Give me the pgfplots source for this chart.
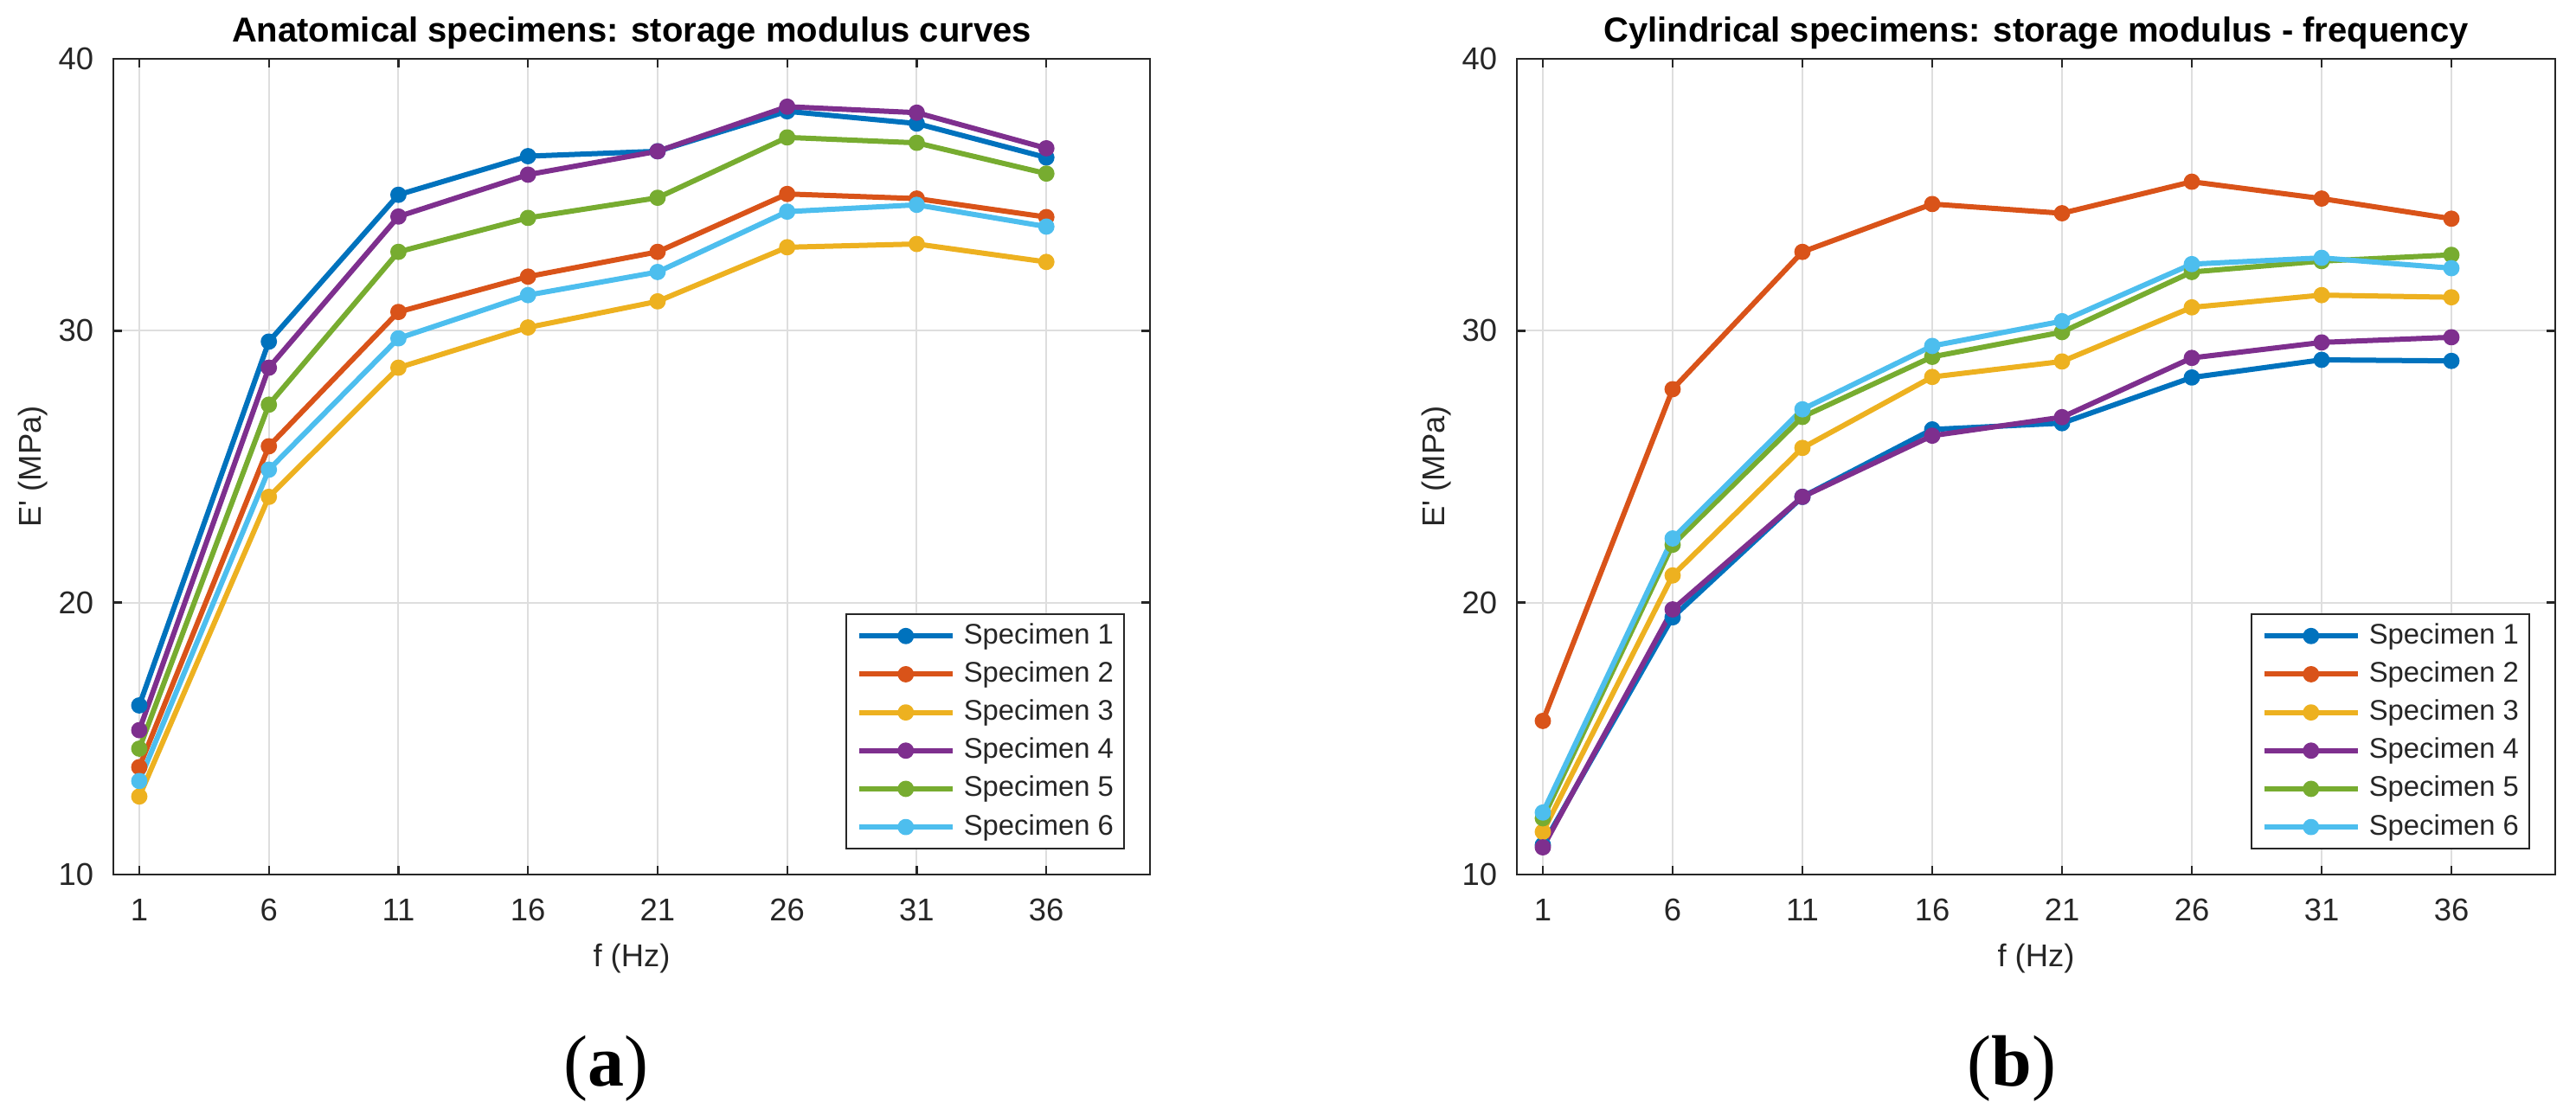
\documentclass[border=0pt]{standalone}
\usepackage{fontspec}
\setmainfont{Liberation Sans}
\newfontfamily\seriffont{Liberation Serif}
\usepackage{pgfplots}
\pgfplotsset{compat=1.18}
\usepackage{pgfplotstable}

\definecolor{c1}{rgb}{0,0.447,0.741}
\definecolor{c2}{rgb}{0.850,0.325,0.098}
\definecolor{c3}{rgb}{0.929,0.694,0.125}
\definecolor{c4}{rgb}{0.494,0.184,0.556}
\definecolor{c5}{rgb}{0.466,0.674,0.188}
\definecolor{c6}{rgb}{0.301,0.745,0.933}
\definecolor{axgray}{rgb}{0.15,0.15,0.15}
\definecolor{gridgray}{rgb}{0.87,0.87,0.87}

\pgfplotstableread{
x   s1     s2     s3     s4     s5     s6
1   16.22  13.95  12.87  15.31  14.63  13.44
6   29.60  25.75  23.89  28.64  27.28  24.89
11  35.00  30.69  28.64  34.20  32.90  29.72
16  36.42  31.99  30.12  35.74  34.15  31.31
21  36.60  32.90  31.08  36.60  34.89  32.16
26  38.07  35.03  33.07  38.24  37.11  34.38
31  37.62  34.86  33.19  38.02  36.91  34.63
36  36.37  34.18  32.53  36.71  35.78  33.83
}\anatomical

\pgfplotstableread{
x   s1     s2     s3     s4     s5     s6
1   11.09  15.65  11.57  11.00  12.07  12.28
6   19.46  27.85  21.00  19.75  22.13  22.36
11  23.89  32.90  25.69  23.89  26.83  27.11
16  26.37  34.66  28.30  26.14  29.04  29.44
21  26.60  34.32  28.87  26.82  29.95  30.35
26  28.28  35.48  30.86  29.00  32.16  32.45
31  28.93  34.86  31.31  29.57  32.56  32.68
36  28.89  34.12  31.23  29.76  32.79  32.30
}\cylindrical

\pgfplotsset{
  mystyle/.style={
    scale only axis,
    height=235.75pt,
    xmin=0, xmax=40, ymin=10, ymax=40,
    xtick={1,6,11,16,21,26,31,36},
    ytick={10,20,30,40},
    grid=major,
    major grid style={gridgray, line width=0.5pt},
    tick align=inside,
    tick pos=both,
    major tick length=2.5pt,
    axis line style={axgray, line width=0.6pt},
    every tick/.style={axgray, line width=0.6pt},
    tick label style={font=\fontsize{9.1}{11}\selectfont, text=axgray},
    /pgf/number format/assume math mode=true,
    xticklabel style={anchor=base, inner sep=0pt, yshift=-13.4pt},
    yticklabel style={anchor=east, inner sep=0pt, xshift=-5.5pt},
    xlabel={f (Hz)},
    ylabel={E\textquotesingle\ (MPa)},
    xlabel style={at={(axis description cs:0.5,0)}, anchor=center, yshift=-24.25pt,
      font=\fontsize{9.1}{11}\selectfont, text=axgray},
    ylabel style={at={(axis description cs:-0.0776,0.5)}, anchor=center,
      font=\fontsize{9.1}{11}\selectfont, text=axgray},
    every axis title shift=0pt,
    title style={at={(axis description cs:0.5,1)}, anchor=base, yshift=5pt,
      inner sep=0pt, font=\bfseries\fontsize{10}{12}\selectfont, text=black},
    legend style={at={(axis description cs:1,0)}, anchor=south east,
      xshift=-7.25pt, yshift=7.25pt, draw=axgray, line width=0.5pt, fill=white,
      font=\fontsize{8.2}{10}\selectfont, text=axgray,
      inner xsep=3pt, inner ysep=2.5pt, row sep=3.6pt, column sep=2.5pt,
      nodes={inner sep=0pt}},
    legend cell align=left,
    legend image code/.code={\draw[mark repeat=2,mark phase=2]
      plot coordinates {(0pt,0pt)(13.5pt,0pt)(27pt,0pt)};},
    every axis plot/.append style={line width=1.5pt, mark=*, mark size=1.6pt,
      mark options={solid}, line join=round},
  }
}

\begin{document}
\begin{tikzpicture}
\useasboundingbox (0,0) rectangle (744.25pt,322pt);

\begin{axis}[mystyle, width=299.5pt, at={(32.75pt,69.25pt)}, anchor=south west,
  title={Anatomical specimens: storage modulus curves}]
\addplot[c1] table[x=x,y=s1] {\anatomical};
\addplot[c2] table[x=x,y=s2] {\anatomical};
\addplot[c3] table[x=x,y=s3] {\anatomical};
\addplot[c4] table[x=x,y=s4] {\anatomical};
\addplot[c5] table[x=x,y=s5] {\anatomical};
\addplot[c6] table[x=x,y=s6] {\anatomical};
\legend{Specimen 1,Specimen 2,Specimen 3,Specimen 4,Specimen 5,Specimen 6}
\end{axis}

\begin{axis}[mystyle, width=300pt, at={(438.25pt,69.25pt)}, anchor=south west,
  title={Cylindrical specimens: storage modulus - frequency}]
\addplot[c1] table[x=x,y=s1] {\cylindrical};
\addplot[c2] table[x=x,y=s2] {\cylindrical};
\addplot[c3] table[x=x,y=s3] {\cylindrical};
\addplot[c4] table[x=x,y=s4] {\cylindrical};
\addplot[c5] table[x=x,y=s5] {\cylindrical};
\addplot[c6] table[x=x,y=s6] {\cylindrical};
\legend{Specimen 1,Specimen 2,Specimen 3,Specimen 4,Specimen 5,Specimen 6}
\end{axis}

\node[font=\seriffont\fontsize{21}{24}\selectfont, anchor=center] at (175pt,13.25pt) {(\textbf{a})};
\node[font=\seriffont\fontsize{21}{24}\selectfont, anchor=center] at (581.25pt,13.25pt) {(\textbf{b})};
\end{tikzpicture}
\end{document}
